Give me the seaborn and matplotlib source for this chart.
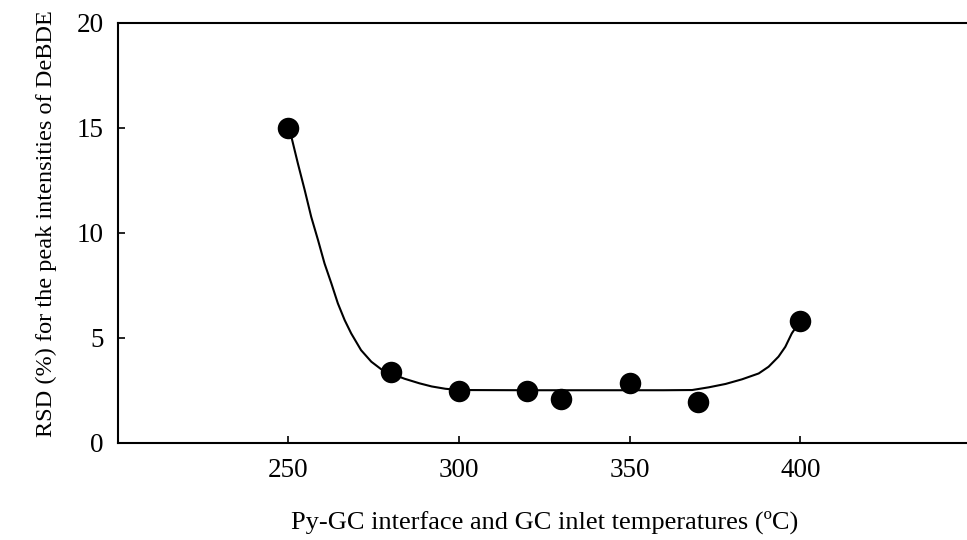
import matplotlib
matplotlib.use("Agg")
import matplotlib.pyplot as plt
import seaborn as sns
import pandas as pd

# Measured points
temperature = [250, 280, 300, 320, 330, 350, 370, 400]
rsd = [15.0, 3.38, 2.48, 2.48, 2.08, 2.84, 1.95, 5.81]

# Fitted curve
curve_x = [250.0, 251.0, 252.8, 254.8, 256.7, 258.7, 260.6, 262.6, 264.5, 266.5,
           268.4, 271.3, 274.3, 277.2, 280.0, 284.0, 288.4, 292.0, 296.0, 300.0,
           320.0, 340.0, 360.0, 368.3, 373.2, 378.1, 382.9, 387.8, 390.7, 393.6,
           395.6, 397.5, 400.0]
curve_y = [15.0, 14.5, 13.3, 12.03, 10.76, 9.65, 8.54, 7.59, 6.64, 5.84,
           5.21, 4.41, 3.86, 3.50, 3.30, 3.05, 2.83, 2.68, 2.57, 2.51,
           2.50, 2.50, 2.50, 2.51, 2.64, 2.80, 3.02, 3.30, 3.62, 4.10,
           4.57, 5.21, 5.81]

xticks = [250, 300, 350, 400]
yticks = [0, 5, 10, 15, 20]

sns.set_theme(style="ticks")
plt.rcParams["font.family"] = ["Liberation Serif", "DejaVu Serif"]
plt.rcParams["text.color"] = "black"
plt.rcParams["axes.labelcolor"] = "black"

fig = plt.figure(figsize=(9.67, 5.40), dpi=100)
W, H = 967, 540
x0, x1 = 117.7, 971.0
y_top, y_bot = 23.0, 442.7
ax = fig.add_axes([x0 / W, 1 - y_bot / H, (x1 - x0) / W, (y_bot - y_top) / H])

curve_df = pd.DataFrame({"x": curve_x, "y": curve_y})
pts_df = pd.DataFrame({"x": temperature, "y": rsd})

sns.lineplot(data=curve_df, x="x", y="y", ax=ax, color="black", linewidth=1.5,
             sort=False, estimator=None, zorder=2)
sns.scatterplot(data=pts_df, x="x", y="y", ax=ax, color="black", s=240,
                edgecolor="black", linewidth=0, zorder=3)

ax.set_xlim(200, 450)
ax.set_ylim(0, 20)
ax.set_xticks(xticks)
ax.set_yticks(yticks)
ax.tick_params(direction="in", length=5, width=1.2, labelsize=19.5, colors="black", pad=10)
ax.tick_params(axis="x", pad=11)
for side in ["left", "bottom", "top", "right"]:
    ax.spines[side].set_visible(True)
    ax.spines[side].set_color("black")
    ax.spines[side].set_linewidth(1.5)

ax.set_xlabel("Py-GC interface and GC inlet temperatures (ºC)", fontsize=19,
              labelpad=20, color="black")
ax.set_ylabel("RSD (%) for the peak intensities of DeBDE", fontsize=17.5, color="black")
ax.yaxis.set_label_coords((57 - x0) / (x1 - x0), (y_bot - 223.5) / (y_bot - y_top))

fig.savefig("out.png", dpi=100)
